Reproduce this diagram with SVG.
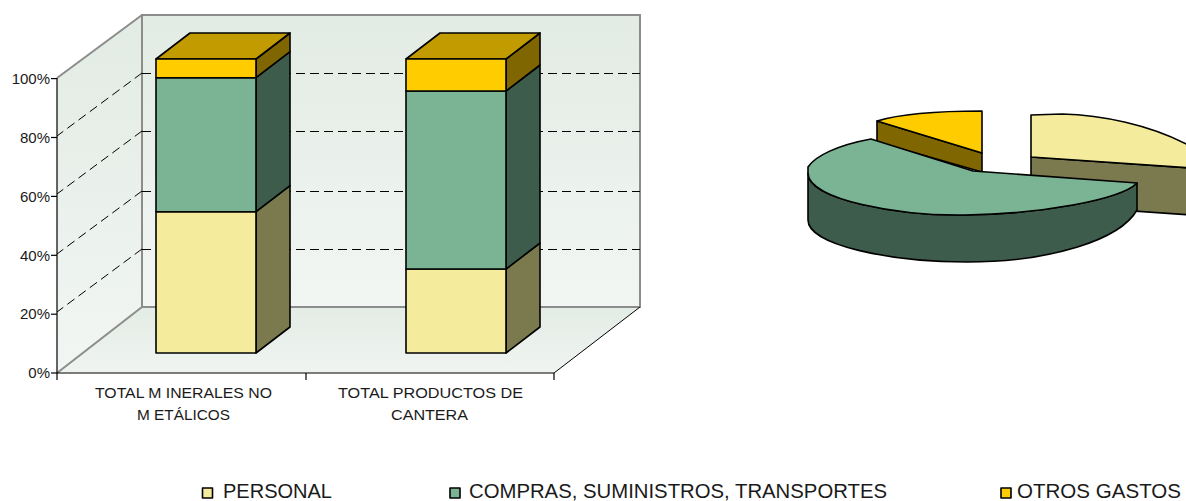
<svg xmlns="http://www.w3.org/2000/svg" width="1186" height="501" viewBox="0 0 1186 501">
<defs>
<linearGradient id="wall" x1="0" y1="0" x2="0" y2="1">
<stop offset="0" stop-color="#E2EBE4"/>
<stop offset="1" stop-color="#F2F6F3"/>
</linearGradient>
<linearGradient id="floor" x1="0" y1="0" x2="0" y2="1">
<stop offset="0" stop-color="#E3ECE5"/>
<stop offset="1" stop-color="#F0F4F1"/>
</linearGradient>
</defs>
<style>
text{font-family:"Liberation Sans",Arial,sans-serif;fill:#1a1a1a}
.ax{font-size:15px}
.cat{font-size:14.5px}
.leg{font-size:20px}
.wb{stroke:#8C8C8C;stroke-width:2;fill:none}
.grid{stroke:#000;stroke-width:1;stroke-dasharray:9 5;fill:none}
.axis{stroke:#000;stroke-width:1.2;fill:none}
.s{stroke:#000;stroke-width:1.6;stroke-linejoin:round}
.pf{fill:#F4EC9C}.ps{fill:#7B7A4E}
.gf{fill:#7BB494}.gs{fill:#3E5C4C}
.of{fill:#FFCC00}.ot{fill:#C29B00}.os{fill:#806600}
</style>

<g id="chart-frame">
<polygon points="57,78 142,15 142,307 57,373" fill="url(#wall)"/>
<rect x="142" y="15" width="498" height="292" fill="url(#wall)"/>
<polygon points="57,373 142,307 640,307 554,373" fill="url(#floor)"/>
<rect x="142" y="15" width="498" height="292" class="wb"/>
<line x1="57" y1="78" x2="142" y2="15" class="wb"/>
<line x1="57" y1="373" x2="142" y2="307" class="wb"/>
<line x1="554" y1="373" x2="640" y2="307" stroke="#000" stroke-width="1"/>
<g class="grid">
<line x1="142" y1="73.5" x2="640" y2="73.5" shape-rendering="crispEdges"/>
<line x1="142" y1="131.5" x2="640" y2="131.5" shape-rendering="crispEdges"/>
<line x1="142" y1="191.5" x2="640" y2="191.5" shape-rendering="crispEdges"/>
<line x1="142" y1="249.5" x2="640" y2="249.5" shape-rendering="crispEdges"/>
<line x1="142" y1="73" x2="57" y2="136"/>
<line x1="142" y1="131" x2="57" y2="194"/>
<line x1="142" y1="191" x2="57" y2="254"/>
<line x1="142" y1="249" x2="57" y2="312"/>
</g>
<g class="axis">
<line x1="57" y1="78" x2="57" y2="373"/>
<line x1="57" y1="373" x2="554" y2="373"/>
<line x1="51" y1="78.6" x2="57" y2="78.6"/>
<line x1="51" y1="137.5" x2="57" y2="137.5"/>
<line x1="51" y1="196.4" x2="57" y2="196.4"/>
<line x1="51" y1="255.3" x2="57" y2="255.3"/>
<line x1="51" y1="314.2" x2="57" y2="314.2"/>
<line x1="51" y1="373" x2="57" y2="373"/>
<line x1="57" y1="373" x2="57" y2="380"/>
<line x1="306" y1="373" x2="306" y2="380"/>
<line x1="554" y1="373" x2="554" y2="380"/>
</g>
<g class="ax" text-anchor="end">
<text x="50" y="84">100%</text>
<text x="50" y="143">80%</text>
<text x="50" y="202">60%</text>
<text x="50" y="261">40%</text>
<text x="50" y="319">20%</text>
<text x="50" y="378">0%</text>
</g>
<g class="cat" text-anchor="middle">
<text x="183.5" y="398" textLength="177" lengthAdjust="spacingAndGlyphs">TOTAL M INERALES NO</text>
<text x="183.5" y="420" textLength="93" lengthAdjust="spacingAndGlyphs">M ETÁLICOS</text>
<text x="430.5" y="398" textLength="185" lengthAdjust="spacingAndGlyphs">TOTAL PRODUCTOS DE</text>
<text x="429.5" y="420" textLength="77" lengthAdjust="spacingAndGlyphs">CANTERA</text>
</g>
</g>

<g id="bar-minerales">
<polygon class="s ps" points="256,211.7 290,185.7 290,327 256,353"/>
<polygon class="s gs" points="256,77.7 290,51.7 290,185.7 256,211.7"/>
<polygon class="s os" points="256,59 290,33 290,51.7 256,77.7"/>
<polygon class="s ot" points="156,59 256,59 290,33 190,33"/>
<rect class="s pf" x="156" y="211.7" width="100" height="141.3"/>
<rect class="s gf" x="156" y="77.7" width="100" height="134"/>
<rect class="s of" x="156" y="59" width="100" height="18.7"/>
</g>

<g id="bar-cantera">
<polygon class="s ps" points="506,269 540,243 540,327 506,353"/>
<polygon class="s gs" points="506,91 540,65 540,243 506,269"/>
<polygon class="s os" points="506,59 540,33 540,65 506,91"/>
<polygon class="s ot" points="406,59 506,59 540,33 440,33"/>
<rect class="s pf" x="406" y="269" width="100" height="84"/>
<rect class="s gf" x="406" y="91" width="100" height="178"/>
<rect class="s of" x="406" y="59" width="100" height="32"/>
</g>

<g id="pie-otros">
<path class="s os" d="M877,121 L982,153 L982,172 L877,142 Z"/>
<path class="s of" d="M982,153 L877,121 C900,114 940,111 982,111 Z"/>
</g>
<g id="pie-personal">
<path class="s ps" d="M1031,157 L1192,168 L1192,215 L1031,204 Z"/>
<path class="s pf" d="M1031,157 L1031,115 L1062,114 C1100,115 1150,124 1192,147 L1192,168 Z"/>
</g>
<g id="pie-compras">
<path class="s gs" d="M808,173 C808,200 900,216 965,215 C1040,214 1120,200 1137,183 L1137,210 C1120,240 1050,262 967,262 C890,262 808,245 808,220 Z"/>
<path class="s gf" d="M973,171 L1137,183 C1120,200 1040,214 965,215 C900,216 808,200 808,173 L808,167 C815,156 838,145 871,139 Z"/>
</g>

<g id="legend">
<rect class="s pf" x="202.5" y="488" width="10" height="10" stroke-width="1.2"/>
<text class="leg" x="223" y="498" textLength="109" lengthAdjust="spacingAndGlyphs">PERSONAL</text>
<rect class="s gf" x="450" y="488" width="10" height="10" stroke-width="1.2"/>
<text class="leg" x="469" y="498" textLength="418" lengthAdjust="spacingAndGlyphs">COMPRAS, SUMINISTROS, TRANSPORTES</text>
<rect class="s of" x="1001" y="488" width="10" height="10" stroke-width="1.2"/>
<text class="leg" x="1017" y="498" textLength="164" lengthAdjust="spacingAndGlyphs">OTROS GASTOS</text>
</g>
</svg>
